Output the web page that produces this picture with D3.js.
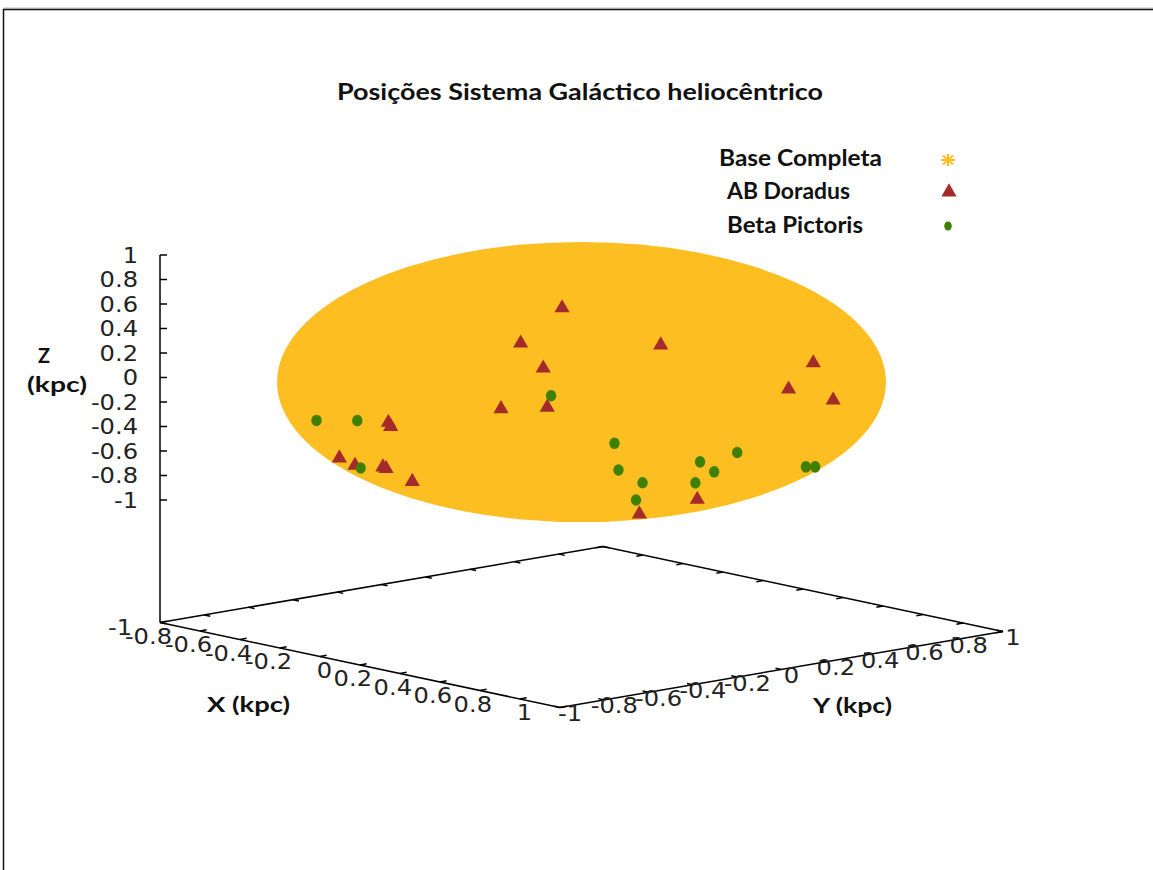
<!DOCTYPE html>
<html>
<head>
<meta charset="utf-8">
<script src="https://cdn.jsdelivr.net/npm/d3@7"></script>
<style>
  body { margin: 0; background: #fff; }
  svg { display: block; }
</style>
</head>
<body>
<script>
// Chart data
const chartTitle = "Posições Sistema Galáctico heliocêntrico";
const seriesNames = ["Base Completa", "AB Doradus", "Beta Pictoris"];
const axisTicks = [-1, -0.8, -0.6, -0.4, -0.2, 0, 0.2, 0.4, 0.6, 0.8, 1];
const baseRadius = 1.0; // full base fills the 1 kpc sphere

// AB Doradus members [x, y, z] in kpc
const abDoradus = [
  [-0.044, -0.048, 0.604], [-0.137, -0.151, 0.316], [-0.086, -0.095, 0.112],
  [-0.181, -0.200, -0.220], [-0.077, -0.085, -0.207], [-0.434, -0.480, -0.332],
  [-0.428, -0.475, -0.365], [-0.544, -0.602, -0.623], [-0.509, -0.563, -0.683],
  [-0.446, -0.494, -0.696], [-0.439, -0.486, -0.708], [-0.380, -0.421, -0.814],
  [0.178, 0.197, 0.302], [0.521, 0.576, 0.158], [0.465, 0.515, -0.057],
  [0.565, 0.626, -0.147], [0.260, 0.288, -0.958], [0.130, 0.144, -1.078]
];

// Beta Pictoris members [x, y, z] in kpc
const betaPictoris = [
  [-0.595, -0.659, -0.316], [-0.503, -0.558, -0.316], [-0.496, -0.549, -0.704],
  [-0.068, -0.076, -0.112], [0.074, 0.082, -0.500], [0.083, 0.092, -0.718],
  [0.137, 0.152, -0.822], [0.122, 0.136, -0.963], [0.266, 0.295, -0.651],
  [0.256, 0.283, -0.822], [0.298, 0.330, -0.732], [0.350, 0.387, -0.574],
  [0.504, 0.558, -0.691], [0.525, 0.581, -0.691]
];

let width = 1153, height = 870;
const zBase = -2;

const colors = { base: "#fdbe21", abdor: "#a52a2a", betapic: "#3f8000" };

let svg = d3.select('body')
    .append('svg')
    .attr('width', width)
    .attr('height', height);

// Page frame (top and left edge of the screenshot)
svg.append('line').attr('x1', 3).attr('y1', 8).attr('x2', width).attr('y2', 8)
    .attr('stroke', '#bbb').attr('stroke-width', 1);
svg.append('path').attr('d', `M${width},9.5H3.5V${height}`)
    .attr('fill', 'none').attr('stroke', '#111').attr('stroke-width', 1.5);

// 3D projection built from linear scales
const xH = d3.scaleLinear().domain([-1, 1]).range([160, 560]);
const yH = d3.scaleLinear().domain([-1, 1]).range([0, 443]);
const xV = d3.scaleLinear().domain([-1, 1]).range([0, 85]);
const yV = d3.scaleLinear().domain([-1, 1]).range([0, -76]);
const zS = d3.scaleLinear().domain([-1, 1]).range([500, 255]);

function proj(x, y, z) {
  return [xH(x) + yH(y), zS(z) + xV(x) + yV(y)];
}

const line = d3.line();
const axisG = svg.append('g').attr('stroke', '#000').attr('stroke-width', 1.5).attr('fill', 'none');

// Base plane
const corners = [[-1, -1], [1, -1], [1, 1], [-1, 1], [-1, -1]];
axisG.append('path').attr('d', line(corners.map(c => proj(c[0], c[1], zBase))));

// Ticks on all four base edges
const tl = 0.03;
axisTicks.forEach(t => {
  axisG.append('path').attr('d', line([proj(t, -1, zBase), proj(t, -1 + tl, zBase)]));
  axisG.append('path').attr('d', line([proj(t, 1, zBase), proj(t, 1 - tl, zBase)]));
  axisG.append('path').attr('d', line([proj(1, t, zBase), proj(1 - tl, t, zBase)]));
  axisG.append('path').attr('d', line([proj(-1, t, zBase), proj(-1 + tl, t, zBase)]));
});

// Z axis
axisG.append('path').attr('d', line([proj(-1, -1, zBase), proj(-1, -1, 1)]));
axisTicks.forEach(t => {
  let p = proj(-1, -1, t);
  axisG.append('path').attr('d', line([p, [p[0] + 7, p[1]]]));
});

// Tick labels
const tickFont = "'DejaVu Sans', sans-serif";
const labelG = svg.append('g')
    .style('font-family', tickFont)
    .style('font-size', '21px')
    .attr('fill', '#222');

axisTicks.forEach(t => {
  let p = proj(t, -1, zBase);
  labelG.append('text')
      .attr('transform', `translate(${p[0] - 28},${p[1] + 5}) scale(1.15,1)`)
      .attr('text-anchor', 'end').attr('dy', '0.36em')
      .text(String(t));
});
axisTicks.forEach(t => {
  let p = proj(1, t, zBase);
  labelG.append('text')
      .attr('transform', `translate(${p[0] + 10},${p[1] + 6}) scale(1.15,1)`)
      .attr('text-anchor', 'middle').attr('dy', '0.36em')
      .text(String(t));
});
axisTicks.forEach(t => {
  let p = proj(-1, -1, t);
  labelG.append('text')
      .attr('transform', `translate(${p[0] - 22},${p[1]}) scale(1.15,1)`)
      .attr('text-anchor', 'end').attr('dy', '0.36em')
      .text(String(t));
});

// Base Completa: dense cloud filling the sphere, drawn as its projected outline
const c0 = proj(0, 0, 0);
const rx = baseRadius * Math.hypot(xH(1) - xH(0), yH(1) - yH(0)) + 6;
const ry = baseRadius * Math.hypot(xV(1) - xV(0), yV(1) - yV(0), zS(0) - zS(1)) + 5;
svg.append('ellipse')
    .attr('cx', c0[0]).attr('cy', c0[1])
    .attr('rx', rx).attr('ry', ry)
    .attr('fill', colors.base);

// AB Doradus triangles
const tri = d3.symbol().type(d3.symbolTriangle).size(100);
svg.append('g').selectAll('path')
    .data(abDoradus)
    .enter()
    .append('path')
    .attr('d', tri)
    .attr('transform', d => { let p = proj(d[0], d[1], d[2]); return `translate(${p[0]},${p[1]})`; })
    .attr('fill', colors.abdor);

// Beta Pictoris dots
svg.append('g').selectAll('ellipse')
    .data(betaPictoris)
    .enter()
    .append('ellipse')
    .attr('cx', d => proj(d[0], d[1], d[2])[0])
    .attr('cy', d => proj(d[0], d[1], d[2])[1])
    .attr('rx', 5.2)
    .attr('ry', 5.8)
    .attr('fill', colors.betapic);

// Title and axis titles (text stretched to the widths seen in the picture)
const boldFont = "Lato, 'Open Sans', sans-serif";
function boldText(x, y, s, size, len, anchor) {
  return svg.append('text')
      .attr('x', x).attr('y', y)
      .attr('text-anchor', anchor || 'start')
      .attr('textLength', len)
      .attr('lengthAdjust', 'spacingAndGlyphs')
      .style('font-family', boldFont).style('font-weight', 'bold').style('font-size', size + 'px')
      .attr('fill', '#111')
      .text(s);
}

boldText(337, 100, chartTitle, 23, 486);

boldText(38, 363, 'Z', 21, 12);
boldText(27, 392, '(kpc)', 21, 60);
boldText(207, 712, 'X (kpc)', 21, 83);
boldText(813, 713, 'Y (kpc)', 21, 79);

// Legend
const legendX = [719, 727, 727];
const legendY = [166, 199, 233];
const legendLen = [163, 123, 136];
seriesNames.forEach((name, i) => {
  boldText(legendX[i], legendY[i], name, 22, legendLen[i]);
});

// legend samples
let star = svg.append('g').attr('transform', 'translate(948,160)')
    .attr('stroke', colors.base).attr('stroke-width', 2);
[[-7, 0, 7, 0], [0, -6, 0, 6], [-5, -4.5, 5, 4.5], [-5, 4.5, 5, -4.5]].forEach(s => {
  star.append('line').attr('x1', s[0]).attr('y1', s[1]).attr('x2', s[2]).attr('y2', s[3]);
});
svg.append('path').attr('d', tri).attr('transform', 'translate(949,192)').attr('fill', colors.abdor);
svg.append('ellipse').attr('cx', 948).attr('cy', 226).attr('rx', 3.8).attr('ry', 4.5).attr('fill', colors.betapic);
</script>
</body>
</html>
